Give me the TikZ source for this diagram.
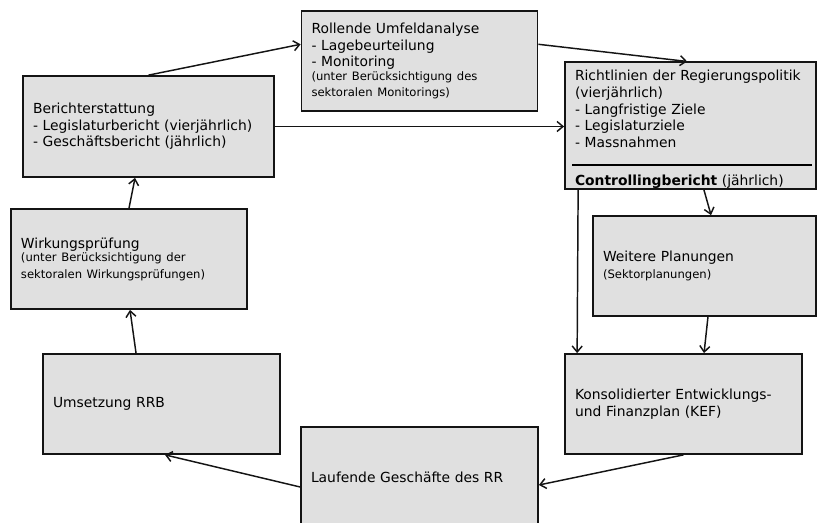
\documentclass[tikz,border=0pt]{standalone}
\usepackage{fontspec}
\setmainfont{DejaVu Sans}
\usetikzlibrary{arrows.meta}
\newcommand{\klein}{\fontsize{8.7}{10}\selectfont}
\tikzset{
  kasten/.style={draw=black!92,line width=1.3pt,fill=black!12,align=left,
    inner xsep=7.5pt,inner ysep=0pt,font=\fontsize{10.4}{12.5}\selectfont},
  pfeil/.style={-{Straight Barb[length=4.5pt,width=7.5pt]},line width=1.1pt,black!92}
}
\begin{document}
\begin{tikzpicture}[x=0.75pt,y=-0.75pt]
\useasboundingbox (0,0) rectangle (817,523);
% Kaesten
\node[kasten,text width=162pt,minimum height=75pt] (umfeld) at (419.5,61)
  {Rollende Umfeldanalyse\\- Lagebeurteilung\\- Monitoring\par
   \klein(unter Berücksichtigung des\\sektoralen Monitorings)};
\node[kasten,text width=173.25pt,minimum height=93.75pt] (richt) at (690.5,125.5)
  {\rule{0pt}{14pt}Richtlinien der Regierungspolitik\\(vierjährlich)\\- Langfristige Ziele\\- Legislaturziele\\- Massnahmen\\[1.5pt]
   \makebox[\linewidth][l]{\hspace*{-2.25pt}\rule{\dimexpr\linewidth+6.5pt}{1.4pt}}\\[2pt]
   \textbf{Controllingbericht} (jährlich)};
\node[kasten,text width=173.25pt,minimum height=75.75pt] (bericht) at (148.5,126.5)
  {Berichterstattung\\- Legislaturbericht (vierjährlich)\\- Geschäftsbericht (jährlich)\\[4pt]};
\node[kasten,text width=162pt,minimum height=75pt] (wirk) at (129,259)
  {Wirkungsprüfung\par\klein(unter Berücksichtigung der\\sektoralen Wirkungsprüfungen)};
\node[kasten,text width=152.25pt,minimum height=75pt] (weitere) at (704.5,266)
  {Weitere Planungen\par\klein(Sektorplanungen)};
\node[kasten,text width=162.75pt,minimum height=75pt] (kef) at (683.5,404)
  {Konsolidierter Entwicklungs-\\und Finanzplan (KEF)};
\node[kasten,text width=162.75pt,minimum height=75pt] (laufend) at (419.5,477)
  {Laufende Geschäfte des RR};
\node[kasten,text width=162.75pt,minimum height=75pt] (umsetz) at (161.5,404)
  {Umsetzung RRB};
% Pfeile
\draw[pfeil] (bericht.north) -- (umfeld.172);
\draw[pfeil] (umfeld.8) -- (richt.93);
\draw[pfeil] (bericht.east) -- (richt.west |- bericht.east);
\draw[pfeil] ([xshift=10pt]richt.south) -- ([xshift=4.9pt]weitere.north);
\draw[pfeil] ([xshift=10.5pt]richt.south west) -- ([xshift=9.75pt]kef.north west);
\draw[pfeil] ([xshift=2.6pt]weitere.south) -- ([xshift=15.4pt]kef.north);
\draw[pfeil] (kef.south) -- ([yshift=-6pt]laufend.east);
\draw[pfeil] ([yshift=-7.5pt]laufend.west) -- ([xshift=2.6pt]umsetz.south);
\draw[pfeil] ([xshift=-19.1pt]umsetz.north) -- ([xshift=0.75pt]wirk.south);
\draw[pfeil] (wirk.north) -- ([xshift=-10.1pt]bericht.south);
\end{tikzpicture}
\end{document}
